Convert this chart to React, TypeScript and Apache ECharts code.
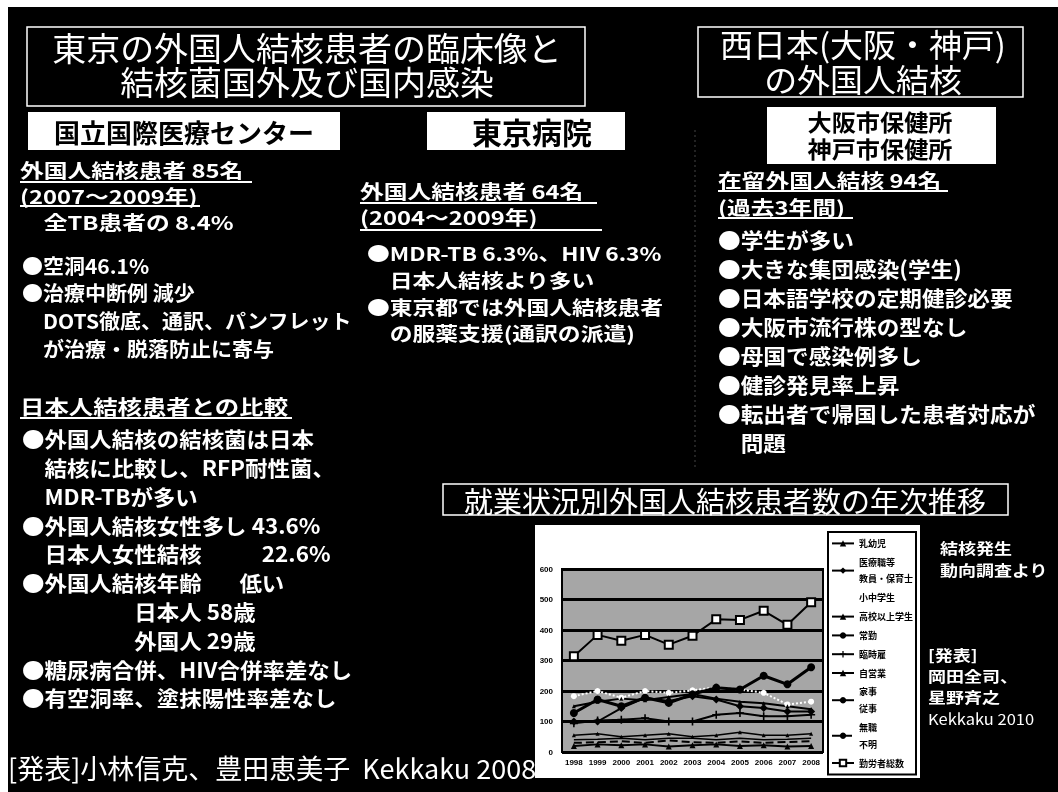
import React, { useEffect, useRef } from "react";
import * as echarts from "echarts";

// ---- chart data (labels of the small legend are estimates) ----
const years = ["1998", "1999", "2000", "2001", "2002", "2003", "2004", "2005", "2006", "2007", "2008"];
const seriesNames = [
  "乳幼児",
  "医療職等\n教員・保育士",
  "小中学生",
  "高校以上学生",
  "常勤",
  "臨時雇",
  "自営業",
  "家事\n従事",
  "無職\n不明",
  "勤労者総数",
];
const s1 = [20, 25, 22, 25, 18, 22, 25, 20, 22, 18, 20];
const s2 = [100, 100, 144, 178, 167, 183, 172, 150, 144, 133, 133];
const s3 = [183, 200, 178, 200, 194, 202, 212, 205, 194, 156, 165];
const s4 = [150, 165, 175, 170, 180, 190, 175, 165, 160, 150, 140];
const s5 = [128, 172, 150, 178, 161, 189, 211, 205, 250, 222, 278];
const s6 = [94, 103, 106, 111, 100, 100, 122, 128, 117, 117, 122];
const s7 = [55, 60, 50, 55, 60, 50, 55, 65, 55, 55, 60];
const s8 = [40, 42, 45, 40, 45, 45, 40, 45, 40, 42, 45];
const s9 = [30, 32, 35, 30, 38, 32, 30, 35, 30, 33, 35];
const s10 = [314, 384, 365, 384, 352, 381, 435, 433, 463, 417, 491];

// ---- slide texts ----
const title1 = ["東京の外国人結核患者の臨床像と", "結核菌国外及び国内感染"];
const title2 = ["西日本(大阪・神戸)", "の外国人結核"];
const chartTitle = "就業状況別外国人結核患者数の年次推移";
const leftHead = ["外国人結核患者 85名", "(2007～2009年)", "　全TB患者の 8.4%"];
const leftBody1 = ["●空洞46.1%", "●治療中断例 減少", "　DOTS徹底、通訳、パンフレット", "　が治療・脱落防止に寄与"];
const leftBody2 = [
  "●外国人結核の結核菌は日本",
  "　結核に比較し、RFP耐性菌、",
  "　MDR-TBが多い",
  "●外国人結核女性多し 43.6%",
  "　日本人女性結核　　   22.6%",
  "●外国人結核年齢　   低い",
  "　　　　　日本人 58歳",
  "　　　　　外国人 29歳",
  "●糖尿病合併、HIV合併率差なし",
  "●有空洞率、塗抹陽性率差なし",
];
const midHead = ["外国人結核患者 64名", "(2004～2009年)"];
const midBody = ["●MDR-TB 6.3%、HIV 6.3%", "　日本人結核より多い", "●東京都では外国人結核患者", "　の服薬支援(通訳の派遣)"];
const rightHead = ["在留外国人結核 94名", "(過去3年間)"];
const rightBody = [
  "●学生が多い",
  "●大きな集団感染(学生)",
  "●日本語学校の定期健診必要",
  "●大阪市流行株の型なし",
  "●母国で感染例多し",
  "●健診発見率上昇",
  "●転出者で帰国した患者対応が",
  "　問題",
];

const FONT = '"Noto Sans CJK JP", "Noto Sans", sans-serif';

function txt(x: number, y: number, text: string, size: number, opt: any = {}) {
  const weight = opt.weight || "bold";
  return {
    type: "text",
    x,
    y,
    z: 10,
    scaleX: opt.sx || 1,
    style: {
      text,
      fill: opt.fill || "#fff",
      font: `${weight} ${size}px ${FONT}`,
      textAlign: opt.align || "left",
      align: opt.align || "left",
      textVerticalAlign: "middle",
      verticalAlign: "middle",
      lineHeight: opt.lineHeight || Math.round(size * 0.95),
    },
  };
}
// multi-line block: first line centre at y0, spacing lh
function block(x: number, y0: number, lines: string[], size: number, lh: number, opt: any = {}) {
  const yc = y0 + ((lines.length - 1) * lh) / 2;
  return txt(x, yc, lines.join("\n"), size, { ...opt, lineHeight: lh });
}
function uline(x1: number, x2: number, y: number) {
  return { type: "line", z: 10, shape: { x1, y1: y, x2, y2: y }, style: { stroke: "#fff", lineWidth: 2 } };
}
function box(x: number, y: number, w: number, h: number, fill: string, stroke?: string) {
  return {
    type: "rect",
    z: 5,
    shape: { x, y, width: w, height: h },
    style: { fill, stroke: stroke || null, lineWidth: stroke ? 1.5 : 0 },
  };
}

export default function App() {
  const ref = useRef<HTMLDivElement>(null);
  useEffect(() => {
    if (!ref.current) return;
    const chart = echarts.init(ref.current, undefined, { renderer: "svg" });

    const plusPath = "path://M4,0H6V4H10V6H6V10H4V6H0V4H4Z";
    const mk = (name: string, data: number[], o: any) => ({
      name,
      type: "line",
      data,
      z: 3,
      symbol: o.symbol || "none",
      symbolSize: o.size || 6,
      showSymbol: !!o.symbol,
      lineStyle: { color: o.color || "#000", width: o.width || 2, type: o.type || "solid" },
      itemStyle: {
        color: o.fill || o.color || "#000",
        borderColor: o.color || "#000",
        borderWidth: o.bw || 0,
      },
    });

    const elements: any[] = [
      { type: "rect", z: -10, shape: { x: 0, y: 0, width: 1058, height: 792 }, style: { fill: "#fff" } },
      { type: "rect", z: -9, shape: { x: 8, y: 7, width: 1050, height: 785 }, style: { fill: "#000" } },
      { type: "rect", z: -5, shape: { x: 535, y: 525, width: 385, height: 253 }, style: { fill: "#fff" } },
      // separator
      { type: "line", z: 1, shape: { x1: 695, y1: 130, x2: 695, y2: 470 }, style: { stroke: "#444", lineWidth: 1, lineDash: [2, 3] } },
      // title boxes
      box(27, 27, 558, 79, "none", "#fff"),
      block(307, 47, title1, 33, 34, { weight: "normal", align: "center", sx: 1.03 }),
      box(698, 27, 325, 70, "none", "#fff"),
      block(863, 43, title2, 32, 35, { weight: "normal", align: "center", sx: 1.03 }),
      // white label boxes
      box(28, 112, 312, 38, "#fff"),
      txt(184, 131, "国立国際医療センター", 26, { fill: "#000", align: "center" }),
      box(427, 112, 198, 38, "#fff"),
      txt(532, 131, "東京病院", 30, { fill: "#000", align: "center" }),
      box(767, 107, 229, 57, "#fff"),
      block(880, 121.5, ["大阪市保健所", "神戸市保健所"], 23, 27, { fill: "#000", align: "center", sx: 1.05 }),

      // left column
      block(20, 170, leftHead, 19, 26, { sx: 1.25 }),
      uline(20, 252, 182),
      uline(20, 200, 206),
      block(22, 265, leftBody1, 20, 27.7, { sx: 1.05 }),
      txt(20, 406, "日本人結核患者との比較", 20, { sx: 1.22 }),
      uline(20, 292, 418),
      block(22, 438, leftBody2, 21, 28.8, { sx: 1.07 }),
      txt(8, 767, "[発表]小林信克、豊田恵美子  Kekkaku 2008", 27, { weight: "normal" }),

      // middle column
      block(360, 191, midHead, 19, 26, { sx: 1.25 }),
      uline(360, 597, 203),
      uline(360, 602, 230),
      block(367, 253, midBody, 19, 26.7, { sx: 1.2 }),

      // right column
      block(718, 180, rightHead, 19, 27, { sx: 1.25 }),
      uline(718, 948, 191),
      uline(718, 853, 218),
      block(718, 239, rightBody, 21, 29, { sx: 1.08 }),

      // chart title
      box(443, 484, 565, 31, "none", "#fff"),
      txt(725, 500, chartTitle, 29, { weight: "normal", align: "center", lineHeight: 28 }),

      // source notes
      block(940, 548, ["結核発生", "動向調査より"], 15, 22, { sx: 1.2 }),
      block(928, 655, ["[発表]", "岡田全司、", "星野斉之"], 15, 21, { sx: 1.2 }),
      txt(928, 719, "Kekkaku 2010", 15, { weight: "normal", sx: 1.1 }),
    ];

    chart.setOption({
      animation: false,
      graphic: { elements },
      grid: {
        left: 562,
        top: 569,
        width: 261,
        height: 183,
        show: true,
        backgroundColor: "#a6a6a6",
        borderColor: "#000",
        borderWidth: 2,
        z: 0,
      },
      legend: {
        orient: "vertical",
        left: 828,
        top: 532,
        backgroundColor: "#fff",
        borderColor: "#000",
        borderWidth: 2,
        padding: [3, 3, 3, 3],
        itemWidth: 22,
        itemHeight: 8,
        itemGap: 2,
        data: seriesNames,
        textStyle: { fontSize: 9, fontWeight: "bold", color: "#000", lineHeight: 16.8, fontFamily: FONT },
      },
      xAxis: {
        type: "category",
        data: years,
        boundaryGap: true,
        axisTick: { show: false },
        axisLine: { lineStyle: { color: "#000", width: 2 } },
        axisLabel: { fontSize: 8, fontWeight: "bold", color: "#000", margin: 6, interval: 0 },
      },
      yAxis: {
        type: "value",
        min: 0,
        max: 600,
        interval: 100,
        axisLine: { show: true, lineStyle: { color: "#000", width: 2 } },
        axisTick: { show: false },
        splitLine: { lineStyle: { color: "#000", width: 3 } },
        axisLabel: { fontSize: 8, fontWeight: "bold", color: "#000", margin: 9 },
      },
      series: [
        mk(seriesNames[0], s1, { symbol: "triangle", size: 6 }),
        mk(seriesNames[1], s2, { symbol: "diamond", size: 8 }),
        mk(seriesNames[2], s3, { symbol: "circle", size: 6, color: "#fff", type: "dotted" }),
        mk(seriesNames[3], s4, { symbol: "triangle", size: 4, width: 2 }),
        mk(seriesNames[4], s5, { symbol: "circle", size: 8, width: 3 }),
        mk(seriesNames[5], s6, { symbol: plusPath, size: 8, width: 2 }),
        mk(seriesNames[6], s7, { symbol: "triangle", size: 4, width: 1.5 }),
        mk(seriesNames[7], s8, { width: 1.5 }),
        mk(seriesNames[8], s9, { width: 2, type: "dashed" }),
        mk(seriesNames[9], s10, { symbol: "rect", size: 8, width: 2, fill: "#fff", bw: 2 }),
      ],
    });
    return () => chart.dispose();
  }, []);
  return <div ref={ref} style={{ position: "fixed", left: 0, top: 0, width: 1058, height: 792 }} />;
}
